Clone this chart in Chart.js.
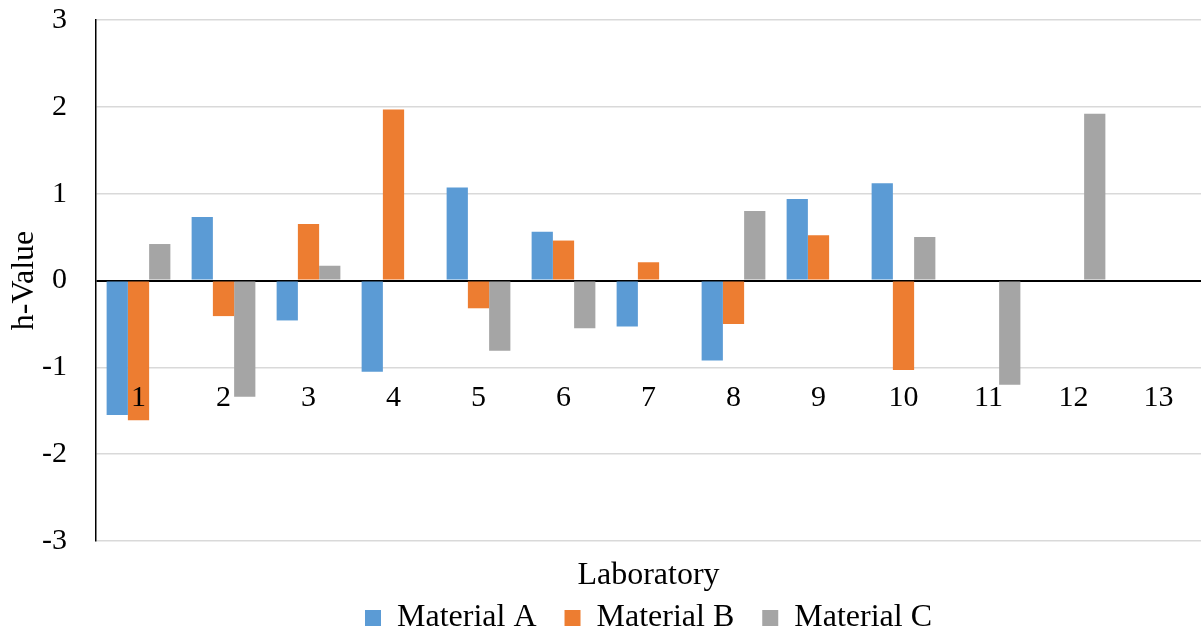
<!DOCTYPE html>
<html>
<head>
<meta charset="utf-8">
<script src="https://cdn.jsdelivr.net/npm/chart.js@4.4.1/dist/chart.umd.min.js"></script>
<style>
html,body{margin:0;padding:0;background:#ffffff;}
canvas{display:block;}
</style>
</head>
<body>
<canvas id="chart" width="1201" height="632"></canvas>
<script>
// ---- data ----
const laboratories = ['1','2','3','4','5','6','7','8','9','10','11','12','13'];
const seriesNames = ['Material A','Material B','Material C'];
const materialA = [-1.55, 0.73, -0.46, -1.05, 1.07, 0.56, -0.53, -0.92, 0.94, 1.12, null, null, null];
const materialB = [-1.61, -0.41, 0.65, 1.97, -0.32, 0.46, 0.21, -0.50, 0.52, -1.03, null, null, null];
const materialC = [0.42, -1.34, 0.17, null, -0.81, -0.55, null, 0.80, null, 0.50, -1.20, 1.92, null];
const yTickValues = [-3, -2, -1, 0, 1, 2, 3];
const xTitle = 'Laboratory';
const yTitle = 'h-Value';

// ---- styles ----
const colors = ['#5B9BD5', '#ED7D31', '#A5A5A5'];
const FONT = '"Liberation Serif", "Times New Roman", serif';

Chart.defaults.color = '#000000';
Chart.defaults.font.family = FONT;

const seriesValues = [materialA, materialB, materialC];

new Chart(document.getElementById('chart'), {
  type: 'bar',
  data: {
    labels: laboratories,
    datasets: seriesNames.map((name, i) => ({
      label: name,
      data: seriesValues[i],
      backgroundColor: colors[i],
      borderWidth: 0,
      categoryPercentage: 0.75,
      barPercentage: 1.0
    }))
  },
  options: {
    responsive: false,
    animation: false,
    devicePixelRatio: 1,
    layout: { padding: { top: 20, right: -4, bottom: -12, left: 0 } },
    plugins: {
      tooltip: { enabled: false },
      legend: {
        position: 'bottom',
        fullSize: false,
        labels: {
          font: { size: 32, family: FONT },
          color: '#000000',
          boxWidth: 16,
          boxHeight: 16,
          padding: 28
        }
      }
    },
    scales: {
      x: {
        type: 'category',
        position: 'bottom',
        grid: { display: false, drawTicks: false },
        border: { display: false },
        ticks: {
          z: 1,
          mirror: true,
          padding: 125,
          maxRotation: 0,
          autoSkip: false,
          font: { size: 30, family: FONT },
          color: '#000000'
        },
        title: {
          display: true,
          text: xTitle,
          font: { size: 32, family: FONT, lineHeight: 1 },
          color: '#000000',
          padding: { top: 0, bottom: -18 }
        },
        afterFit: (s) => {
          s.height = 33;
          s.paddingLeft = 0; s.paddingRight = 0; s.paddingTop = 0; s.paddingBottom = 0;
        }
      },
      y: {
        min: -3,
        max: 3,
        afterBuildTicks: (s) => { s.ticks = yTickValues.map(v => ({ value: v })); },
        grid: {
          drawTicks: false,
          color: (c) => (c.tick && c.tick.value === 0) ? '#000000' : '#D9D9D9',
          lineWidth: (c) => (c.tick && c.tick.value === 0) ? 2 : 1.5
        },
        border: { display: true, color: '#000000', width: 1.5 },
        ticks: {
          padding: 29,
          font: { size: 30, family: FONT },
          color: '#000000',
          callback: (v) => String(v)
        },
        title: {
          display: true,
          text: yTitle,
          font: { size: 32, family: FONT, lineHeight: 1 },
          color: '#000000',
          padding: { top: 9, bottom: 1 }
        },
        afterFit: (s) => {
          s.width = 96;
          s.paddingLeft = 0; s.paddingRight = 0; s.paddingTop = 0; s.paddingBottom = 0;
        }
      }
    }
  }
});
</script>
</body>
</html>
